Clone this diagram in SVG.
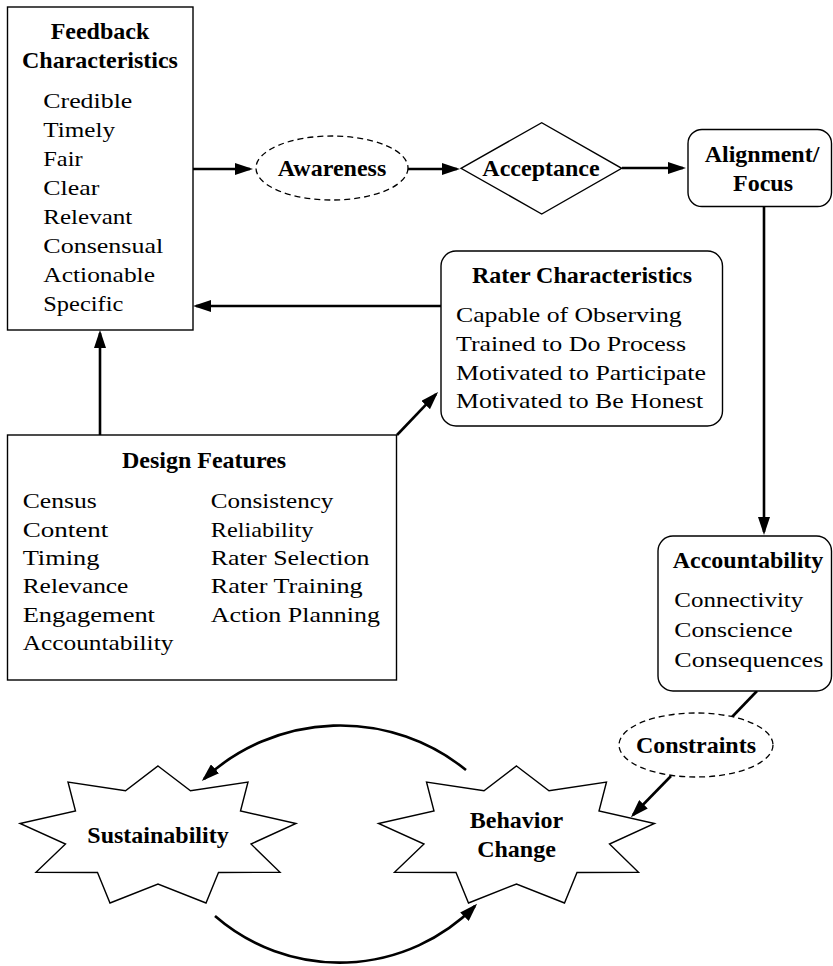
<svg xmlns="http://www.w3.org/2000/svg" width="833" height="966" viewBox="0 0 833 966">
<defs>
<marker id="ah" markerWidth="18" markerHeight="12" refX="15" refY="6" orient="auto" markerUnits="userSpaceOnUse">
<path d="M0,0 L18,6 L0,12 z" fill="#000"/>
</marker>
<style>
.box{fill:#fff;stroke:#000;stroke-width:1.4}
.dash{fill:#fff;stroke:#000;stroke-width:1.3;stroke-dasharray:6 4}
.con{fill:none;stroke:#000;stroke-width:2.6;marker-end:url(#ah)}
.plain{fill:none;stroke:#000;stroke-width:2.6}
.t{font-family:"Liberation Serif","Times New Roman",serif;font-size:22px;fill:#000}
.b{font-family:"Liberation Serif","Times New Roman",serif;font-size:24px;font-weight:bold;fill:#000;text-anchor:middle}
</style>
</defs>
<rect width="833" height="966" fill="#fff"/>

<g id="connectors">
<path class="con" d="M193,169 H250"/>
<path class="con" d="M408,169 H457"/>
<path class="con" d="M622,168 H683"/>
<path class="con" d="M764,207 V532"/>
<path class="con" d="M441,306 H196"/>
<path class="con" d="M100,435 V333"/>
<path class="con" d="M397,435 L436,394.2"/>
<path class="plain" d="M757,691 L732,717"/>
<path class="con" d="M671,776 L633,815"/>
<path class="con" d="M466,770 A200,200 0 0 0 204,779"/>
<path class="con" d="M215,916 A190,190 0 0 0 475,906"/>
</g>

<g id="feedback">
<rect class="box" x="7.5" y="7" width="185.5" height="323"/>
<text class="b" x="100" y="39">Feedback</text>
<text class="b" x="100" y="68">Characteristics</text>
<text class="t" x="43.3" y="108.3" textLength="89" lengthAdjust="spacingAndGlyphs">Credible</text>
<text class="t" x="43.3" y="137.2" textLength="71.7" lengthAdjust="spacingAndGlyphs">Timely</text>
<text class="t" x="43.3" y="166.1" textLength="39.3" lengthAdjust="spacingAndGlyphs">Fair</text>
<text class="t" x="43.3" y="195" textLength="56" lengthAdjust="spacingAndGlyphs">Clear</text>
<text class="t" x="43.3" y="223.9" textLength="89" lengthAdjust="spacingAndGlyphs">Relevant</text>
<text class="t" x="43.3" y="252.8" textLength="120" lengthAdjust="spacingAndGlyphs">Consensual</text>
<text class="t" x="43.3" y="281.7" textLength="111.7" lengthAdjust="spacingAndGlyphs">Actionable</text>
<text class="t" x="43.3" y="310.6" textLength="80" lengthAdjust="spacingAndGlyphs">Specific</text>
</g>

<g id="awareness">
<ellipse class="dash" cx="332" cy="168" rx="76" ry="32"/>
<text class="b" x="332" y="176">Awareness</text>
</g>

<g id="acceptance">
<polygon class="box" points="461,168.3 541.7,122.7 621.7,168.3 541.7,214"/>
<text class="b" x="541" y="176">Acceptance</text>
</g>

<g id="alignment">
<rect class="box" x="688" y="129.5" width="143.5" height="77" rx="14" ry="14"/>
<text class="b" x="762" y="162">Alignment/</text>
<text class="b" x="763" y="191">Focus</text>
</g>

<g id="rater">
<rect class="box" x="441" y="251" width="281.5" height="175" rx="15" ry="15"/>
<text class="b" x="582" y="283">Rater Characteristics</text>
<text class="t" x="456" y="321.7" textLength="225.7" lengthAdjust="spacingAndGlyphs">Capable of Observing</text>
<text class="t" x="456" y="350.6" textLength="230" lengthAdjust="spacingAndGlyphs">Trained to Do Process</text>
<text class="t" x="456" y="379.5" textLength="250" lengthAdjust="spacingAndGlyphs">Motivated to Participate</text>
<text class="t" x="456" y="408.4" textLength="247.3" lengthAdjust="spacingAndGlyphs">Motivated to Be Honest</text>
</g>

<g id="design">
<rect class="box" x="7.5" y="435" width="389" height="245"/>
<text class="b" x="204" y="468">Design Features</text>
<text class="t" x="22.7" y="508.3" textLength="74" lengthAdjust="spacingAndGlyphs">Census</text>
<text class="t" x="22.7" y="536.7" textLength="85.7" lengthAdjust="spacingAndGlyphs">Content</text>
<text class="t" x="22.7" y="565" textLength="76.7" lengthAdjust="spacingAndGlyphs">Timing</text>
<text class="t" x="22.7" y="593.3" textLength="105.7" lengthAdjust="spacingAndGlyphs">Relevance</text>
<text class="t" x="22.7" y="621.7" textLength="132.3" lengthAdjust="spacingAndGlyphs">Engagement</text>
<text class="t" x="22.7" y="650" textLength="150.7" lengthAdjust="spacingAndGlyphs">Accountability</text>
<text class="t" x="210.7" y="508.3" textLength="122.7" lengthAdjust="spacingAndGlyphs">Consistency</text>
<text class="t" x="210.7" y="536.7" textLength="102.7" lengthAdjust="spacingAndGlyphs">Reliability</text>
<text class="t" x="210.7" y="565" textLength="158.7" lengthAdjust="spacingAndGlyphs">Rater Selection</text>
<text class="t" x="210.7" y="593.3" textLength="152" lengthAdjust="spacingAndGlyphs">Rater Training</text>
<text class="t" x="210.7" y="621.7" textLength="169.3" lengthAdjust="spacingAndGlyphs">Action Planning</text>
</g>

<g id="accountability">
<rect class="box" x="658" y="536" width="173.5" height="155" rx="15" ry="15"/>
<text class="b" x="748" y="568">Accountability</text>
<text class="t" x="674.3" y="607" textLength="129" lengthAdjust="spacingAndGlyphs">Connectivity</text>
<text class="t" x="674.3" y="637" textLength="118.3" lengthAdjust="spacingAndGlyphs">Conscience</text>
<text class="t" x="674.3" y="666.5" textLength="149" lengthAdjust="spacingAndGlyphs">Consequences</text>
</g>

<g id="constraints">
<ellipse class="dash" cx="696" cy="745" rx="77" ry="32"/>
<text class="b" x="696" y="753">Constraints</text>
</g>

<g id="sustainability">
<polygon class="box" points="158,766 190.5,790.7 248,782 240.5,811 296,823.5 251,844 280,872.3 218.5,872.5 206,903 158,884 110,903 97.5,872.5 36,872.3 65.5,844 20,823.5 75.5,811 68,782 125.5,790.7"/>
<text class="b" x="158" y="843">Sustainability</text>
</g>

<g id="behavior">
<polygon class="box" points="516.5,766 549,790.7 606.5,782 599,811 654.5,823.5 609.5,844 638.5,872.3 577,872.5 564.5,903 516.5,884 468.5,903 456,872.5 394.5,872.3 424,844 378.5,823.5 434,811 426.5,782 484,790.7"/>
<text class="b" x="516.5" y="828">Behavior</text>
<text class="b" x="516.5" y="856.5">Change</text>
</g>
</svg>
